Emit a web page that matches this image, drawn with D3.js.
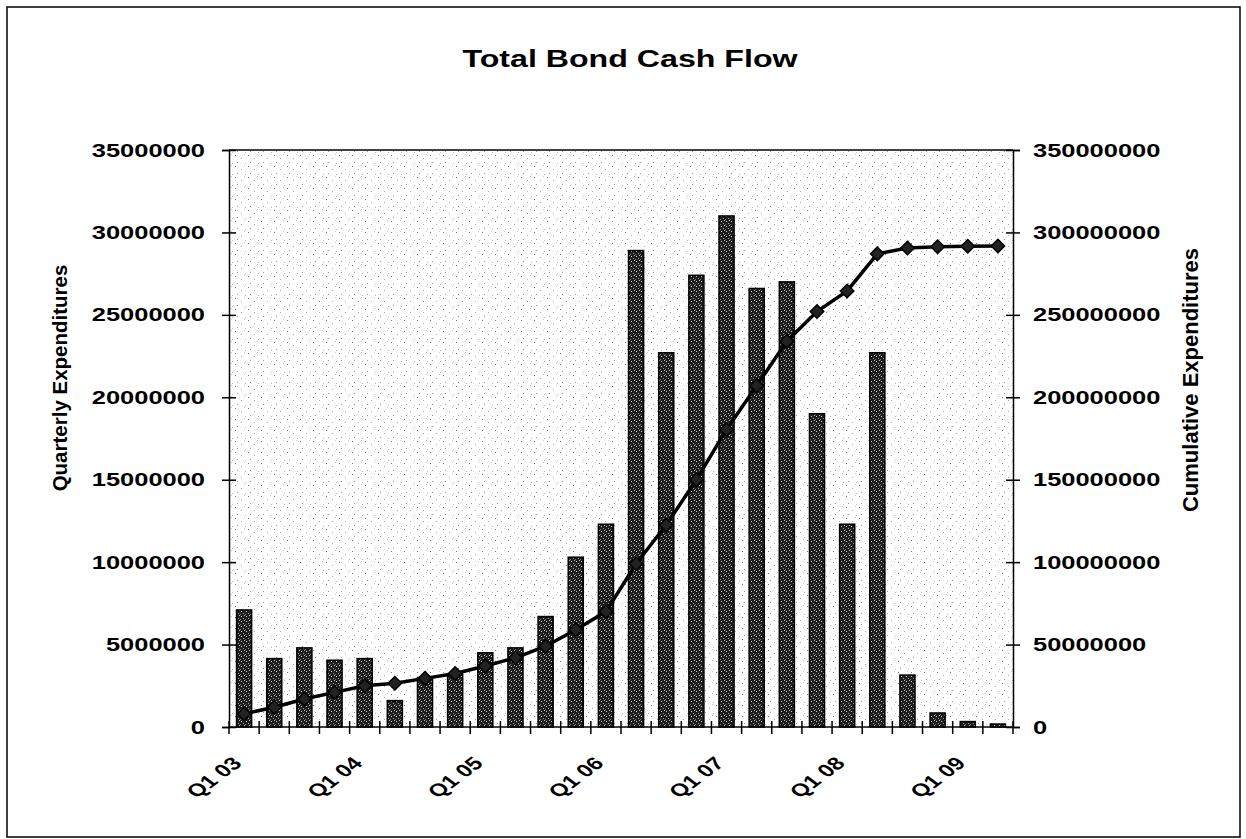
<!DOCTYPE html>
<html lang="en">
<head>
<meta charset="utf-8">
<title>Total Bond Cash Flow</title>
<script src="https://cdn.jsdelivr.net/npm/d3@7"></script>
<style>
  html, body { margin: 0; padding: 0; background: #fff; overflow: hidden; }
  text { font-family: "Liberation Sans", Arial, sans-serif; font-weight: bold; fill: #000; }
</style>
</head>
<body>
<div id="chart"></div>
<script>
// quarters Q1 03 .. Q2 09
var quarters = ["Q1 03","Q2 03","Q3 03","Q4 03","Q1 04","Q2 04","Q3 04","Q4 04",
                "Q1 05","Q2 05","Q3 05","Q4 05","Q1 06","Q2 06","Q3 06","Q4 06",
                "Q1 07","Q2 07","Q3 07","Q4 07","Q1 08","Q2 08","Q3 08","Q4 08",
                "Q1 09","Q2 09"];
// quarterly expenditures (bars, left axis)
var quarterly = [7100000, 4150000, 4800000, 4050000, 4150000, 1600000, 3000000, 3200000,
                 4500000, 4800000, 6700000, 10300000, 12300000, 28900000, 22700000, 27400000,
                 31000000, 26600000, 27000000, 19000000, 12300000, 22700000, 3150000, 850000,
                 330000, 180000];
// cumulative expenditures (line, right axis)
var cumulative = [8000000, 12000000, 17000000, 21000000, 25000000, 26500000, 29500000, 32500000,
                  37000000, 42000000, 49000000, 59000000, 70000000, 99000000, 122500000, 150000000,
                  180500000, 207000000, 234000000, 252000000, 264500000, 287000000, 290500000, 291300000,
                  291600000, 291800000];
var leftTicks = [0, 5000000, 10000000, 15000000, 20000000, 25000000, 30000000, 35000000];
var rightTicks = [0, 50000000, 100000000, 150000000, 200000000, 250000000, 300000000, 350000000];
var xLabels = ["Q1 03","Q1 04","Q1 05","Q1 06","Q1 07","Q1 08","Q1 09"];

var W = 1246, H = 839;
var pLeft = 229, pRight = 1013, pTop = 150, pBottom = 727;
var SX = 1.34; // scanned page is stretched sideways

var svg = d3.select("#chart").append("svg")
    .attr("width", W).attr("height", H);

var defs = svg.append("defs");

// sparse speckles on the plot area
var bgPat = defs.append("pattern").attr("id", "bgdots")
    .attr("width", 13).attr("height", 11).attr("patternUnits", "userSpaceOnUse");
bgPat.append("rect").attr("width", 13).attr("height", 11).attr("fill", "#fff");
[[1,1,"#777"],[7,4,"#aaa"],[3,8,"#999"],[11,9,"#bbb"],[10,0,"#ccc"]].forEach(function(p){
  bgPat.append("rect").attr("x", p[0]).attr("y", p[1]).attr("width", 1).attr("height", 1).attr("fill", p[2]);
});

// dark bar fill with light speckles
var barPat = defs.append("pattern").attr("id", "bardots")
    .attr("width", 5).attr("height", 5).attr("patternUnits", "userSpaceOnUse");
barPat.append("rect").attr("width", 5).attr("height", 5).attr("fill", "#1e1e1e");
[[1,1,"#d0d0d0"],[3,3,"#9a9a9a"],[0,4,"#777"],[4,0,"#bbb"]].forEach(function(p){
  barPat.append("rect").attr("x", p[0]).attr("y", p[1]).attr("width", 1).attr("height", 1).attr("fill", p[2]);
});

// outer chart border
svg.append("rect")
    .attr("x", 7).attr("y", 7).attr("width", 1233).attr("height", 830)
    .attr("fill", "none").attr("stroke", "#000").attr("stroke-width", 1.5);

var x = d3.scaleBand().domain(quarters).range([pLeft, pRight]).padding(0);
var yL = d3.scaleLinear().domain([0, 35000000]).range([pBottom, pTop]);
var yR = d3.scaleLinear().domain([0, 350000000]).range([pBottom, pTop]);

// plot area
svg.append("rect")
    .attr("x", pLeft).attr("y", pTop)
    .attr("width", pRight - pLeft).attr("height", pBottom - pTop)
    .attr("fill", "url(#bgdots)");
svg.append("line")
    .attr("x1", pLeft).attr("x2", pRight).attr("y1", pTop).attr("y2", pTop)
    .attr("stroke", "#000").attr("stroke-width", 1.5);

// bars
var bw = x.bandwidth() * 0.5;
svg.selectAll("rect.bar")
    .data(quarterly)
    .enter()
    .append("rect")
    .attr("class", "bar")
    .attr("x", function(d, i){ return x(quarters[i]) + (x.bandwidth() - bw) / 2; })
    .attr("y", function(d){ return yL(d); })
    .attr("width", bw)
    .attr("height", function(d){ return pBottom - yL(d); })
    .attr("fill", "url(#bardots)")
    .attr("stroke", "#000")
    .attr("stroke-width", 1.5);

// cumulative line
var line = d3.line()
    .x(function(d, i){ return x(quarters[i]) + x.bandwidth() / 2; })
    .y(function(d){ return yR(d); });

svg.append("path")
    .datum(cumulative)
    .attr("d", line)
    .attr("fill", "none")
    .attr("stroke", "#000")
    .attr("stroke-width", 3.5);

svg.selectAll("path.marker")
    .data(cumulative)
    .enter()
    .append("path")
    .attr("class", "marker")
    .attr("d", d3.symbol().type(d3.symbolSquare).size(90))
    .attr("transform", function(d, i){
      return "translate(" + (x(quarters[i]) + x.bandwidth() / 2) + "," + yR(d) + ") rotate(45)";
    })
    .attr("fill", "#222")
    .attr("stroke", "#000")
    .attr("stroke-width", 1.5);

// left axis
var gL = svg.append("g")
    .attr("transform", "translate(" + pLeft + ",0)")
    .call(d3.axisLeft(yL).tickValues(leftTicks).tickSize(7).tickFormat(d3.format("d")));
gL.select(".domain").attr("stroke-width", 1.5);
gL.selectAll(".tick line").attr("x1", -7).attr("x2", 7).attr("stroke-width", 1.5);
gL.selectAll(".tick text")
    .attr("font-size", 19)
    .attr("x", -24 / SX)
    .attr("transform", "scale(" + SX + ",1)");

// right axis
var gR = svg.append("g")
    .attr("transform", "translate(" + pRight + ",0)")
    .call(d3.axisRight(yR).tickValues(rightTicks).tickSize(7).tickFormat(d3.format("d")));
gR.select(".domain").attr("stroke-width", 1.5);
gR.selectAll(".tick line").attr("x1", -7).attr("x2", 7).attr("stroke-width", 1.5);
gR.selectAll(".tick text")
    .attr("font-size", 19)
    .attr("x", 20 / SX)
    .attr("transform", "scale(" + SX + ",1)");

// x axis: line plus ticks on the category boundaries
svg.append("line")
    .attr("x1", pLeft).attr("x2", pRight).attr("y1", pBottom).attr("y2", pBottom)
    .attr("stroke", "#000").attr("stroke-width", 1.5);
var bounds = quarters.map(function(q){ return x(q); }).concat([pRight]);
svg.selectAll("line.xtick")
    .data(bounds)
    .enter()
    .append("line")
    .attr("class", "xtick")
    .attr("x1", function(d){ return d; }).attr("x2", function(d){ return d; })
    .attr("y1", pBottom - 6).attr("y2", pBottom + 7)
    .attr("stroke", "#000").attr("stroke-width", 1.5);

svg.selectAll("text.xlab")
    .data(xLabels)
    .enter()
    .append("text")
    .attr("class", "xlab")
    .attr("transform", function(d){
      return "translate(" + (x(d) + x.bandwidth() / 2 - 7) + "," + (pBottom + 33) + ") scale(" + SX + ",1) rotate(-45)";
    })
    .attr("text-anchor", "end")
    .attr("dy", "0.35em")
    .attr("font-size", 18)
    .text(function(d){ return d; });

// titles
svg.append("text")
    .attr("transform", "translate(630,67) scale(" + SX + ",1)")
    .attr("text-anchor", "middle")
    .attr("font-size", 24)
    .text("Total Bond Cash Flow");

svg.append("text")
    .attr("transform", "translate(60,378) rotate(-90)")
    .attr("text-anchor", "middle")
    .attr("dy", "0.35em")
    .attr("font-size", 20.5)
    .text("Quarterly Expenditures");

svg.append("text")
    .attr("transform", "translate(1190,380) rotate(-90)")
    .attr("text-anchor", "middle")
    .attr("dy", "0.35em")
    .attr("font-size", 22)
    .text("Cumulative Expenditures");
</script>
</body>
</html>
